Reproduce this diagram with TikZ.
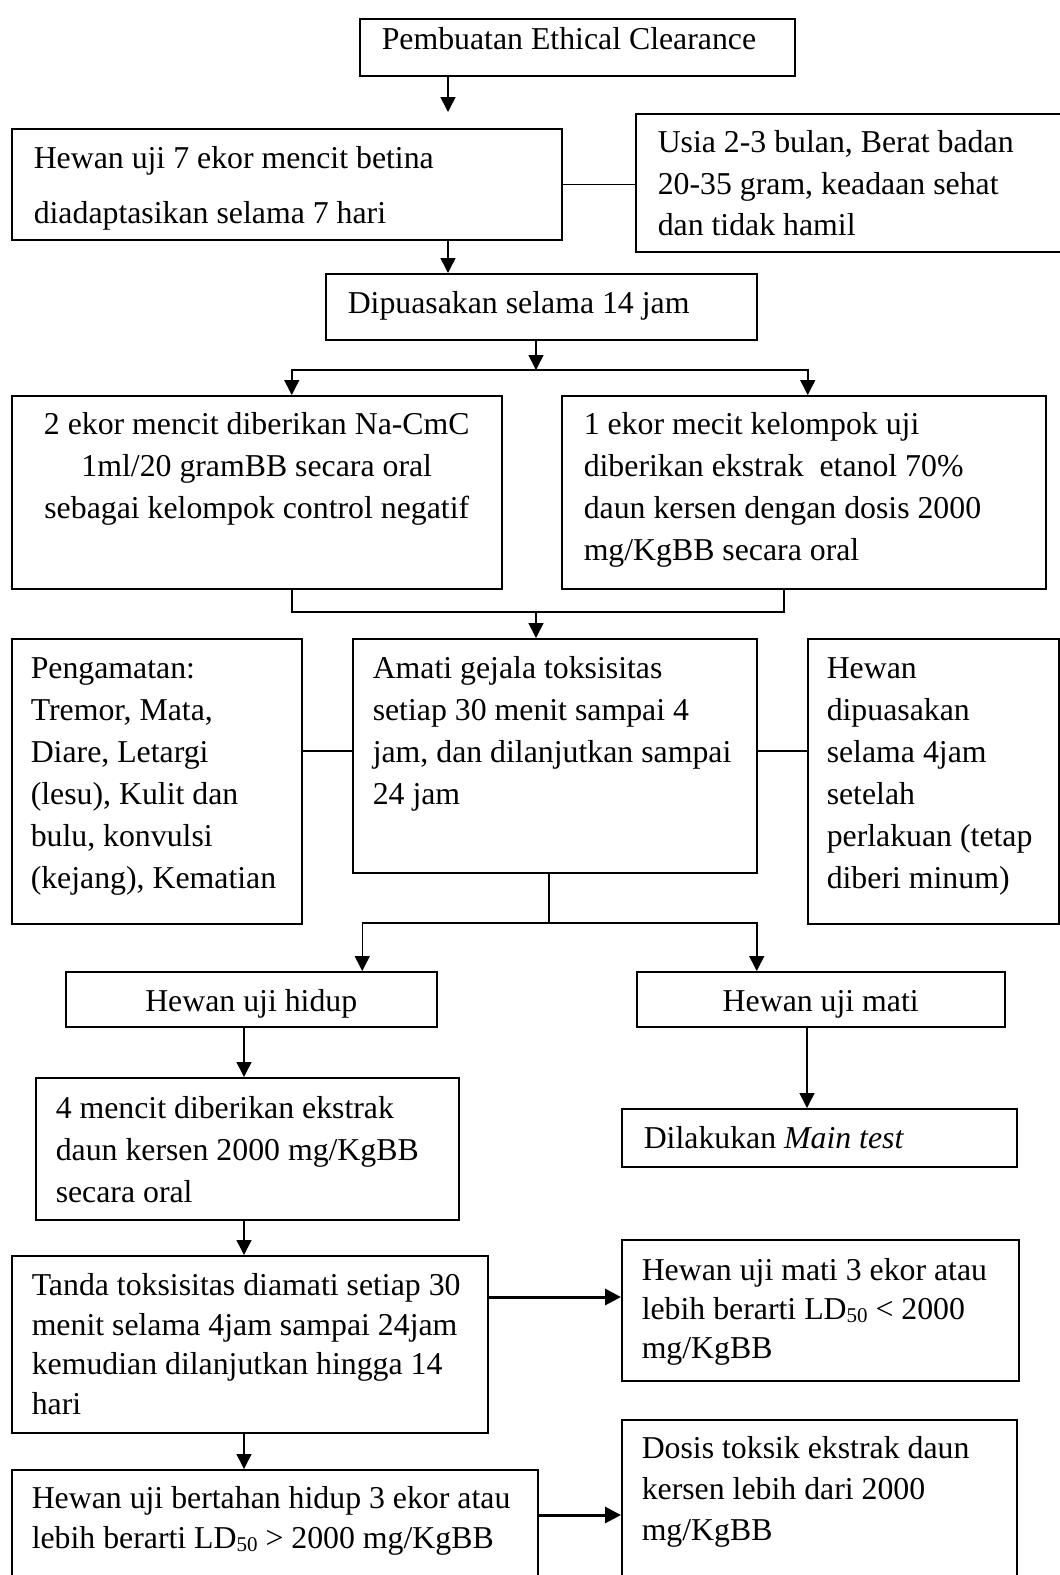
\documentclass[tikz,border=0pt]{standalone}
\usepackage{fontspec}
\setmainfont{Liberation Serif}
\usetikzlibrary{arrows.meta}

\newcommand{\ldsub}[1]{\raisebox{-2.5pt}{\fontsize{21}{21}\selectfont #1}}

\tikzset{
  kotak/.style={draw, rectangle, anchor=north west, line width=1.5pt, inner xsep=22pt, inner ysep=0pt, align=flush left, text height=40pt, font=\fontsize{31.8}{42}\selectfont},
  garis/.style={line width=1.5pt},
  panah/.style={line width=1.5pt, -{Triangle[width=15pt,length=15pt]}},
  tebal/.style={line width=3pt, -{Triangle[width=16pt,length=16pt]}}
}

\begin{document}
\begin{tikzpicture}[x=1pt, y=-1pt]
\useasboundingbox (0,0) rectangle (1060,1575);

\node[kotak, text width=391pt, text height=31pt, text depth=26pt] (etik) at (359,18) {Pembuatan Ethical Clearance};
\node[kotak, text width=506pt, text depth=71pt, font=\fontsize{31.8}{55}\selectfont] (hewan) at (11,128) {Hewan uji 7 ekor mencit betina\\ diadaptasikan selama 7 hari};
\node[kotak, text width=396pt, text height=39pt, text depth=99pt, font=\fontsize{31.8}{41.5}\selectfont] (usia) at (635,113) {Usia 2-3 bulan, Berat badan\\ 20-35 gram, keadaan sehat\\ dan tidak hamil};
\node[kotak, text width=387pt, text depth=26pt] (puasa14) at (325,273) {Dipuasakan selama 14 jam};

\node[kotak, text width=446pt, text height=39pt, text depth=154pt, align=flush center] (kontrol) at (11,395) {2 ekor mencit diberikan Na-CmC\\ 1ml/20 gramBB secara oral\\ sebagai kelompok control negatif};
\node[kotak, text width=440pt, text height=39pt, text depth=154pt] (ekstrak) at (561,395) {1 ekor mecit kelompok uji\\ diberikan ekstrak~\ etanol 70\%\\ daun kersen dengan dosis 2000\\ mg/KgBB secara oral};

\node[kotak, inner xsep=19pt, text width=252pt, text depth=245pt] (amat) at (11,638) {Pengamatan:\\ Tremor, Mata,\\ Diare, Letargi\\ (lesu), Kulit dan\\ bulu, konvulsi\\ (kejang), Kematian};
\node[kotak, inner xsep=20pt, text width=364pt, text depth=194pt] (gejala) at (352,638) {Amati gejala toksisitas\\ setiap 30 menit sampai 4\\ jam, dan dilanjutkan sampai\\ 24 jam};
\node[kotak, inner xsep=19pt, text width=213pt, text depth=245pt] (puasa4) at (807,638) {Hewan\\ dipuasakan\\ selama 4jam\\ setelah\\ perlakuan (tetap\\ diberi minum)};

\node[kotak, text width=327pt, text depth=15pt, align=flush center] (hidup) at (65,971) {Hewan uji hidup};
\node[kotak, text width=324pt, text depth=15pt, align=flush center] (mati) at (636,971) {Hewan uji mati};

\node[kotak, inner xsep=20pt, text width=383pt, text height=41pt, text depth=101pt] (empat) at (35,1077) {4 mencit diberikan ekstrak\\ daun kersen 2000 mg/KgBB\\ secara oral};
\node[kotak, text width=351pt, text depth=18pt] (main) at (621,1108) {Dilakukan \textit{Main test}};

\node[kotak, inner xsep=20pt, text width=436pt, text depth=137pt, font=\fontsize{31.8}{39.5}\selectfont] (tanda) at (11,1255) {Tanda toksisitas diamati setiap 30\\ menit selama 4jam sampai 24jam\\ kemudian dilanjutkan hingga 14\\ hari};
\node[kotak, inner xsep=20pt, text width=357pt, text height=41pt, text depth=100pt, font=\fontsize{31.8}{39}\selectfont] (ldkurang) at (621,1239) {Hewan uji mati 3 ekor atau\\ lebih berarti LD\ldsub{50} < 2000\\ mg/KgBB};

\node[kotak, inner xsep=20pt, text width=486pt, text height=39pt, text depth=81pt, font=\fontsize{31.8}{40}\selectfont] (bertahan) at (11,1469) {Hewan uji bertahan hidup 3 ekor atau\\ lebih berarti LD\ldsub{50} > 2000 mg/KgBB};
\node[kotak, inner xsep=20pt, text width=355pt, text height=39pt, text depth=131pt, font=\fontsize{31.8}{41}\selectfont] (dosis) at (621,1419) {Dosis toksik ekstrak daun\\ kersen lebih dari 2000\\ mg/KgBB};

% titik bantu untuk garis
\coordinate (xa) at (448,0);
\coordinate (xc) at (244,0);
\coordinate (xd) at (807,0);
\coordinate (c1) at (536,370);
\coordinate (c2) at (536,612);
\coordinate (c3) at (549,923);
\coordinate (ya) at (0,751);
\coordinate (yb) at (0,1297);
\coordinate (yc) at (0,1515);

\draw[panah, shorten >=16pt] (etik.south -| xa) -- (hewan.north -| xa);
\draw[garis] (hewan.east) -- (usia.west |- hewan.east);
\draw[panah] (hewan.south -| xa) -- (puasa14.north -| xa);

\draw[panah] (puasa14.south -| c1) -- (c1);
\draw[panah] (c1) -| ([xshift=35pt]kontrol.north);
\draw[panah] (c1) -| ([xshift=4pt]ekstrak.north);
\draw[garis] ([xshift=35pt]kontrol.south) |- (c2) -| ([xshift=-20pt]ekstrak.south);
\draw[panah] (c2) -- (gejala.north -| c2);

\draw[garis] (amat.east |- ya) -- (gejala.west |- ya);
\draw[garis] (gejala.east |- ya) -- (puasa4.west |- ya);

\draw[garis] (gejala.south -| c3) -- (c3);
\draw[panah] (c3) -| ([xshift=111pt]hidup.north);
\draw[panah] (c3) -| ([xshift=-64pt]mati.north);

\draw[panah] (hidup.south -| xc) -- (empat.north -| xc);
\draw[panah] (mati.south -| xd) -- (main.north -| xd);
\draw[panah] (empat.south -| xc) -- (tanda.north -| xc);
\draw[tebal] (tanda.east |- yb) -- (ldkurang.west |- yb);
\draw[panah] (tanda.south -| xc) -- (bertahan.north -| xc);
\draw[tebal] (bertahan.east |- yc) -- (dosis.west |- yc);
\end{tikzpicture}
\end{document}
